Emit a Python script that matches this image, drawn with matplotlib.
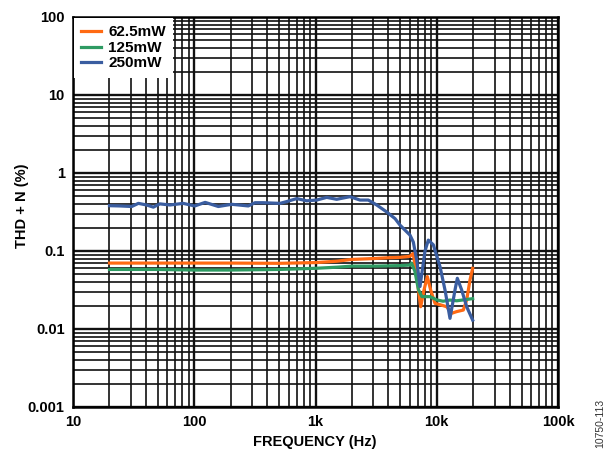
import matplotlib
matplotlib.use("Agg")
import matplotlib.pyplot as plt
from matplotlib.ticker import LogLocator, NullFormatter, FixedLocator, FixedFormatter

plt.rcParams['font.family'] = ['Liberation Sans', 'DejaVu Sans']

# ---- data ----
f_orange = [20, 50, 100, 200, 500, 1000, 1500, 2000, 3000, 4000, 5000, 6000, 6400,
            6830, 7370, 7850, 8360, 8910, 9680, 10640, 12070, 13280, 14590, 16560,
            17660, 18800, 19780]
v_orange = [0.070, 0.070, 0.070, 0.070, 0.0695, 0.071, 0.074, 0.078, 0.080, 0.082,
            0.083, 0.0855, 0.093, 0.047, 0.0193, 0.0316, 0.047, 0.0316, 0.0213,
            0.0205, 0.0193, 0.0159, 0.0167, 0.0175, 0.0236, 0.0425, 0.060]

f_green = [20, 50, 100, 200, 500, 1000, 1500, 2000, 3000, 5000, 6000, 6200, 6600,
           7060, 7540, 8800, 9990, 11280, 12860, 14590, 16560, 19780]
v_green = [0.058, 0.058, 0.057, 0.057, 0.058, 0.060, 0.062, 0.064, 0.064, 0.065,
           0.066, 0.070, 0.055, 0.032, 0.026, 0.026, 0.0236, 0.0227, 0.0235,
           0.023, 0.0236, 0.0245]

f_blue = [20, 24.4, 30.5, 34.6, 40.5, 46, 52, 63, 81, 101, 123, 158, 204, 279, 317,
          371, 510, 578, 700, 846, 1023, 1237, 1495, 1923, 2327, 2724, 3199, 3860,
          4530, 4973, 6013, 6410, 6827, 7278, 8000, 8520, 9370, 10640, 11700,
          12860, 14140, 14780, 16060, 17660, 19780]
v_blue = [0.381, 0.378, 0.372, 0.408, 0.389, 0.365, 0.402, 0.389, 0.408, 0.378,
          0.420, 0.372, 0.397, 0.378, 0.416, 0.416, 0.408, 0.430, 0.470, 0.440,
          0.450, 0.487, 0.460, 0.497, 0.450, 0.450, 0.389, 0.317, 0.260, 0.215,
          0.160, 0.130, 0.077, 0.035, 0.100, 0.138, 0.120, 0.063, 0.0316, 0.0137,
          0.0316, 0.0447, 0.0316, 0.0193, 0.013]

labels = ['62.5mW', '125mW', '250mW']
colors = ['#FF6A13', '#2E9B63', '#3A5DA0']

x_ticks = [10, 100, 1000, 10000, 100000]
x_ticklabels = ['10', '100', '1k', '10k', '100k']
y_ticks = [0.001, 0.01, 0.1, 1, 10, 100]
y_ticklabels = ['0.001', '0.01', '0.1', '1', '10', '100']

# ---- figure ----
fig = plt.figure(figsize=(6.04, 4.58), dpi=100)
ax = fig.add_axes([73/604, 1-407/458, (558-73)/604, (407-17)/458])

ax.set_xscale('log')
ax.set_yscale('log')
ax.set_xlim(10, 100000)
ax.set_ylim(0.001, 100)

for f, v, lab, c in zip([f_orange, f_green, f_blue], [v_orange, v_green, v_blue],
                        labels, colors):
    ax.plot(f, v, color=c, lw=2.3, label=lab, zorder=3, solid_joinstyle='round')

ax.xaxis.set_major_locator(FixedLocator(x_ticks))
ax.xaxis.set_major_formatter(FixedFormatter(x_ticklabels))
ax.yaxis.set_major_locator(FixedLocator(y_ticks))
ax.yaxis.set_major_formatter(FixedFormatter(y_ticklabels))
ax.xaxis.set_minor_locator(LogLocator(base=10, subs=range(2, 10), numticks=20))
ax.yaxis.set_minor_locator(LogLocator(base=10, subs=range(2, 10), numticks=20))
ax.xaxis.set_minor_formatter(NullFormatter())
ax.yaxis.set_minor_formatter(NullFormatter())

ax.grid(which='major', color='#111111', lw=1.7, zorder=1)
ax.grid(which='minor', color='#111111', lw=1.2, zorder=1)
ax.tick_params(which='both', length=0, pad=6, labelsize=10.5)
for lab in ax.get_xticklabels() + ax.get_yticklabels():
    lab.set_fontweight('bold')
for s in ax.spines.values():
    s.set_linewidth(1.8)
    s.set_color('black')

ax.set_xlabel('FREQUENCY (Hz)', fontsize=10.5, fontweight='bold')
ax.set_ylabel('THD + N (%)', fontsize=10.5, fontweight='bold')
ax.xaxis.label.set_va('center')
ax.yaxis.label.set_va('center')
ax.xaxis.set_label_coords((315-73)/485, -(442-407)/390)
ax.yaxis.set_label_coords((22-73)/485, (407-206)/390)

leg = ax.legend(loc='upper left', frameon=True, fancybox=False, framealpha=1,
                edgecolor='white', facecolor='white',
                prop={'weight': 'bold', 'size': 11}, handlelength=1.3,
                handletextpad=0.45, labelspacing=0.1, borderpad=0.5,
                borderaxespad=0.05)
leg.get_frame().set_linewidth(0)
leg.set_zorder(5)

fig.text(600/604, 1-423/458, '10750-113', rotation=90, fontsize=7.5,
         ha='center', va='center', color='#333333')

fig.savefig('out.png', dpi=100)
